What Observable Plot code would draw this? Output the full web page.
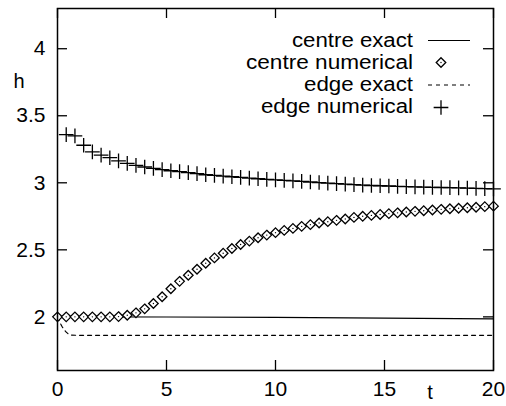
<!DOCTYPE html>
<html><head><meta charset="utf-8">
<script src="https://cdn.jsdelivr.net/npm/d3@7"></script>
<script src="https://cdn.jsdelivr.net/npm/@observablehq/plot@0.6"></script>
<style>
body{margin:0;background:#fff}
#chart{position:relative;width:506px;height:406px}
</style>
</head><body><div id="chart"></div>
<script>
// ---- data ----
const tCentreNum = [0,0.4,0.8,1.2,1.6,2.0,2.4,2.8,3.2,3.6,4.0,4.4,4.8,5.2,5.6,6.0,6.4,6.8,7.2,7.6,8.0,8.4,8.8,9.2,9.6,10.0,10.4,10.8,11.2,11.6,12.0,12.4,12.8,13.2,13.6,14.0,14.4,14.8,15.2,15.6,16.0,16.4,16.8,17.2,17.6,18.0,18.4,18.8,19.2,19.6,20.0];
const hCentreNum = [2.0,2.0,2.0,2.0,2.0,2.0,2.0,2.002,2.012,2.03,2.06,2.10,2.15,2.21,2.265,2.31,2.355,2.40,2.44,2.475,2.51,2.54,2.565,2.59,2.61,2.628,2.645,2.66,2.675,2.688,2.70,2.71,2.72,2.73,2.742,2.75,2.757,2.764,2.77,2.776,2.782,2.787,2.792,2.797,2.802,2.806,2.81,2.814,2.818,2.822,2.826];
const tEdgeNum = [0.4,0.8,1.2,1.6,2.0,2.4,2.8,3.2,3.6,4.0,4.4,4.8,5.2,5.6,6.0,6.4,6.8,7.2,7.6,8.0,8.4,8.8,9.2,9.6,10.0,10.4,10.8,11.2,11.6,12.0,12.4,12.8,13.2,13.6,14.0,14.4,14.8,15.2,15.6,16.0,16.4,16.8,17.2,17.6,18.0,18.4,18.8,19.2,19.6,20.0];
const hEdgeNum = [3.36,3.35,3.28,3.23,3.207,3.187,3.163,3.145,3.13,3.118,3.107,3.098,3.09,3.083,3.076,3.068,3.06,3.055,3.05,3.045,3.04,3.035,3.03,3.026,3.022,3.018,3.014,3.01,3.006,3.002,2.998,2.994,2.99,2.986,2.983,2.98,2.978,2.976,2.974,2.972,2.97,2.968,2.966,2.965,2.964,2.962,2.961,2.959,2.957,2.955];
const tCentreExact = [0,5,10,15,20];
const hCentreExact = [2.0,1.999,1.996,1.991,1.985];
const tEdgeExact = [0,0.1,0.2,0.3,0.4,0.5,0.6,1,20];
const hEdgeExact = [2.0,1.962,1.93,1.905,1.886,1.872,1.864,1.862,1.862];
const xTicks = [0,5,10,15,20];
const yTicks = [2,2.5,3,3.5,4];
const legendLabels = ["centre exact","centre numerical","edge exact","edge numerical"];

// ---- tables ----
const zip = (ts, hs) => ts.map((t, i) => ({t, h: hs[i]}));
const centreNum = zip(tCentreNum, hCentreNum);
const edgeNum = zip(tEdgeNum, hEdgeNum);
const centreExact = zip(tCentreExact, hCentreExact);
const edgeExact = zip(tEdgeExact, hEdgeExact);

// ---- layout ----
const W = 506, H = 406, mL = 57, mR = 13, mT = 8, mB = 36;
const xDomain = [0, 20], yDomain = [1.6, 4.3];
const tickPx = 10;
const tx = tickPx * (xDomain[1] - xDomain[0]) / (W - mL - mR);
const ty = tickPx * (yDomain[1] - yDomain[0]) / (H - mT - mB);
const font = "'Liberation Sans', Arial, Helvetica, sans-serif";
const sw = 1.3;
const rDiamond = 4.3, rPlus = 4.8;

const plot = Plot.plot({
  width: W, height: H,
  marginLeft: mL, marginRight: mR, marginTop: mT, marginBottom: mB,
  style: {fontFamily: font, fontSize: "20px", background: "white", color: "black", overflow: "visible"},
  x: {domain: xDomain},
  y: {domain: yDomain},
  marks: [
    Plot.axisX(xTicks, {tickSize: 0, tickPadding: 11, fontSize: 21, label: null, tickFormat: d => String(d)}),
    Plot.axisY(yTicks, {tickSize: 0, tickPadding: 12, fontSize: 21, label: null, tickFormat: d => String(d)}),
    Plot.ruleX(xTicks, {x: d => d, y1: yDomain[0], y2: yDomain[0] + ty, stroke: "black", strokeWidth: sw}),
    Plot.ruleX(xTicks, {x: d => d, y1: yDomain[1], y2: yDomain[1] - ty, stroke: "black", strokeWidth: sw}),
    Plot.ruleY(yTicks, {y: d => d, x1: xDomain[0], x2: xDomain[0] + tx, stroke: "black", strokeWidth: sw}),
    Plot.ruleY(yTicks, {y: d => d, x1: xDomain[1], x2: xDomain[1] - tx, stroke: "black", strokeWidth: sw}),
    Plot.line(centreExact, {x: "t", y: "h", stroke: "black", strokeWidth: 1.2}),
    Plot.line(edgeExact, {x: "t", y: "h", stroke: "black", strokeWidth: 1.2, strokeDasharray: "4,4"}),
    Plot.dot(centreNum, {x: "t", y: "h", symbol: "diamond2", r: rDiamond, stroke: "black", fill: "white", strokeWidth: 1.3}),
    Plot.dot(centreNum, {x: "t", y: "h", r: 0.7, fill: "black", stroke: null}),
    Plot.dot(edgeNum, {x: "t", y: "h", symbol: "plus", r: rPlus, stroke: "black", strokeWidth: 1.3}),
    Plot.frame({stroke: "black", strokeWidth: 1.5})
  ]
});
document.getElementById("chart").appendChild(plot);

// ---- axis titles and legend (non-data decorations) ----
const svg = d3.select(plot);
const g = svg.append("g").attr("font-family", font).attr("font-size", 20).attr("fill", "black");
g.append("text").attr("x", 19).attr("y", 88).attr("text-anchor", "middle").text("h");
g.append("text").attr("x", 430).attr("y", 399).attr("text-anchor", "middle").text("t");

const legendBase = [47, 69, 90.5, 112.5];
const legendWidths = [121, 167, 109, 152];
legendLabels.forEach((s, i) => {
  g.append("text").attr("x", 413).attr("y", legendBase[i]).attr("text-anchor", "end")
    .attr("textLength", legendWidths[i]).attr("lengthAdjust", "spacingAndGlyphs").text(s);
});
const lg = svg.append("g").attr("stroke", "black").attr("fill", "none");
lg.append("line").attr("x1", 428).attr("x2", 470).attr("y1", 40.5).attr("y2", 40.5).attr("stroke-width", 1.2);
lg.append("line").attr("x1", 428).attr("x2", 470).attr("y1", 85).attr("y2", 85).attr("stroke-width", 1.2).attr("stroke-dasharray", "4,4");
lg.append("path").attr("transform", "translate(441,62.5)").attr("d", d3.symbol(d3.symbolDiamond2, Math.PI * rDiamond * rDiamond)()).attr("fill", "white").attr("stroke-width", 1.3);
lg.append("circle").attr("cx", 441).attr("cy", 62.5).attr("r", 0.7).attr("fill", "black").attr("stroke", "none");
lg.append("path").attr("transform", "translate(441,107.5)").attr("d", d3.symbol(d3.symbolPlus, Math.PI * rPlus * rPlus)()).attr("stroke-width", 1.3);
</script>
</body></html>
